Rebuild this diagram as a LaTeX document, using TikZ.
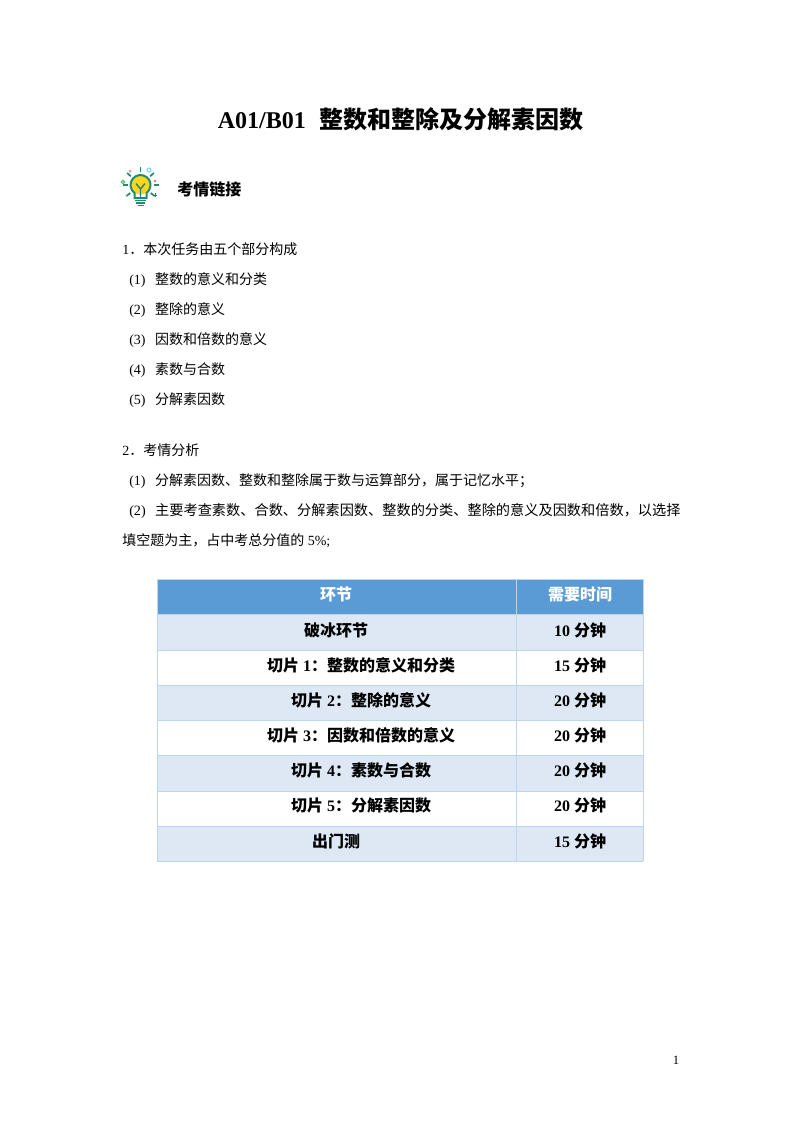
\documentclass[tikz,border=0pt]{standalone}
\usepackage{fontspec}
\setmainfont{Liberation Serif}
\newfontfamily\cjk{Noto Sans CJK SC}
\newcommand{\zh}[1]{{\cjk #1}}
\definecolor{headblue}{HTML}{5B9BD5}
\definecolor{rowblue}{HTML}{DEE8F5}
\definecolor{gridblue}{HTML}{BDD6EE}
\definecolor{bulbgreen}{HTML}{1E8C6E}
\definecolor{bulbyellow}{HTML}{FFD51E}
\tikzset{
    bodytext/.style={anchor=base west, inner sep=0pt, font=\fontsize{10.5pt}{12pt}\selectfont},
    celltext/.style={inner sep=0pt, font=\fontsize{12pt}{14pt}\selectfont\bfseries},
    ray/.style={bulbgreen, line width=1.3pt},
}
\begin{document}
\begin{tikzpicture}[x=0.75pt, y=-0.75pt]
    \useasboundingbox (0,0) rectangle (800,1132);
    \node [inner sep=0pt, font=\fontsize{18pt}{20pt}\selectfont\bfseries] (title) at (400.5,119) {A01/B01\hspace{10pt}\zh{整数和整除及分解素因数}};
    % lamp
    \foreach \a in {90, 42, 138, 0, 180, -38, 218} {
        \draw [ray] (140.5,185) ++(-\a:13) -- ++(-\a:5);
    }
    \fill [bulbyellow] (140.5,185) circle (9.5);
    \draw [bulbgreen, line width=1.5pt] (134.5,193) arc (127:413:10) -- (146.5,198) -- (134.5,198) -- cycle;
    \draw [bulbgreen, line width=1.1pt] (140.5,198) -- (140.5,189) -- (136,183.5) (140.5,189) -- (145,183.5);
    \draw [bulbgreen, line width=1.1pt] (135,200.5) -- (146,200.5) (136,203) -- (145,203) (137.5,205.5) -- (143.5,205.5);
    \fill [red!45] (130,171) circle (1.5);
    \draw [cyan!50, line width=0.8pt] (149,170) circle (2);
    \draw [green!60!black!60, line width=0.9pt] (123,182) circle (1.7);
    \fill [red!60] (155,181) circle (1.4);
    \fill [teal!30] (126,195) circle (1.2);
    \draw [bulbgreen, line width=0.7pt] (153,195) -- (157,195) (155,193) -- (155,197);
    \node [anchor=base west, inner sep=0pt, font=\fontsize{12pt}{14pt}\selectfont\bfseries] (heading) at (177,195) {\zh{考情链接}};
    % text lines
    \node [bodytext] (l1) at (122,254) {1\zh{．本次任务由五个部分构成}};
    \foreach \n/\y/\t in {1/284/整数的意义和分类, 2/314/整除的意义, 3/344/因数和倍数的意义, 4/374/素数与合数, 5/404/分解素因数} {
        \node [bodytext] (p\n) at (129,\y) {(\n)\hspace{7.2pt}\zh{\t}};
    }
    \node [bodytext] (l2) at (122,455) {2\zh{．考情分析}};
    \node [bodytext] (q1) at (129,485) {(1)\hspace{7.2pt}\zh{分解素因数、整数和整除属于数与运算部分，属于记忆水平；}};
    \node [bodytext, font=\fontsize{10.65pt}{12pt}\selectfont] (q2) at (129,515) {(2)\hspace{7pt}\zh{主要考查素数、合数、分解素因数、整数的分类、整除的意义及因数和倍数，以选择}};
    \node [bodytext] (q3) at (122,545) {\zh{填空题为主，占中考总分值的} 5\%;};
    % table
    \fill [headblue] (157,579) rectangle (643,614);
    \foreach \a/\b in {614/650, 685/720, 755/791, 826/861} {
        \fill [rowblue] (157,\a) rectangle (643,\b);
    }
    \foreach \y in {579, 614, 650, 685, 720, 755, 791, 826, 861} {
        \draw [gridblue, line width=0.7pt] (157,\y) -- (643,\y);
    }
    \foreach \x in {157, 516, 643} {
        \draw [gridblue, line width=0.7pt] (\x,579) -- (\x,861);
    }
    \node [celltext, text=white] (head1) at (336,594) {\zh{环节}};
    \node [celltext, text=white] (head2) at (580,594) {\zh{需要时间}};
    \foreach \n/\x/\y/\t/\m in {
        1/336/630/\zh{破冰环节}/10,
        2/361/665/\zh{切片} 1\zh{：整数的意义和分类}/15,
        3/361/700/\zh{切片} 2\zh{：整除的意义}/20,
        4/361/735/\zh{切片} 3\zh{：因数和倍数的意义}/20,
        5/361/770/\zh{切片} 4\zh{：素数与合数}/20,
        6/361/805/\zh{切片} 5\zh{：分解素因数}/20,
        7/336/841/\zh{出门测}/15} {
        \node [celltext] (step\n) at (\x,\y) {\t};
        \node [celltext] (time\n) at (580,\y) {\m\ \zh{分钟}};
    }
    \node [anchor=base, inner sep=0pt, font=\fontsize{9.5pt}{10pt}\selectfont] (page) at (676,1064) {1};
\end{tikzpicture}
\end{document}
